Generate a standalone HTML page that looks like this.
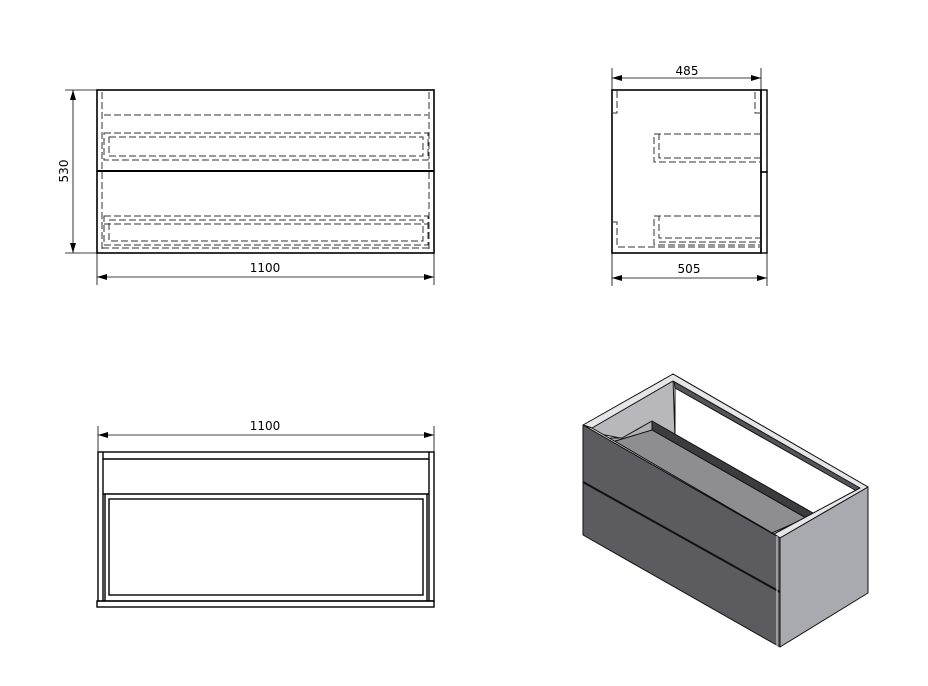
<!DOCTYPE html>
<html><head><meta charset="utf-8"><style>
body{margin:0;background:#fff}
svg{display:block}
text{font-family:"DejaVu Sans","Liberation Sans",sans-serif;font-size:12px;fill:#000}
</style></head><body>
<svg width="928" height="686" viewBox="0 0 928 686" xmlns="http://www.w3.org/2000/svg">
<defs>
<marker id="ar" viewBox="0 0 10 6" refX="10" refY="3" markerWidth="10" markerHeight="6" orient="auto-start-reverse" markerUnits="userSpaceOnUse"><path d="M0,0 L10,3 L0,6z" fill="#000"/></marker>
</defs>
<g fill="none" stroke="#000">
<!-- FRONT VIEW -->
<rect x="97" y="90" width="337" height="163" stroke-width="1.6"/>
<line x1="97" y1="171" x2="434" y2="171" stroke-width="2"/>
<g stroke-dasharray="7,3" stroke-width="1" stroke="#333">
<line x1="102" y1="92" x2="102" y2="250"/><line x1="429" y1="92" x2="429" y2="250"/>
<line x1="104" y1="115" x2="428" y2="115"/>
<rect x="104" y="133" width="324" height="27"/><rect x="109" y="137" width="314" height="19"/>
<rect x="104" y="216" width="324" height="29"/><rect x="109" y="220" width="314" height="21"/>
<line x1="104" y1="224" x2="428" y2="224"/>
<line x1="102" y1="248" x2="429" y2="248"/>
</g>
<g stroke-width="0.8">
<line x1="65" y1="90" x2="97" y2="90"/><line x1="65" y1="253" x2="97" y2="253"/>
<line x1="73" y1="90" x2="73" y2="253" marker-start="url(#ar)" marker-end="url(#ar)"/>
<line x1="97" y1="253" x2="97" y2="285"/><line x1="434" y1="253" x2="434" y2="285"/>
<line x1="97" y1="277" x2="434" y2="277" marker-start="url(#ar)" marker-end="url(#ar)"/>
</g>
<!-- SIDE VIEW -->
<rect x="612" y="90" width="149" height="163" stroke-width="1.6"/>
<rect x="761" y="90" width="6" height="82" stroke-width="1.4"/>
<rect x="761" y="172" width="6" height="81" stroke-width="1.4"/>
<g stroke-dasharray="7,3" stroke-width="1" stroke="#333">
<path d="M617 91 V113 H612"/><path d="M761 113 H755 V91"/>
<path d="M761 134 H654 V162 H761"/><path d="M761 158 H659 V134"/>
<path d="M761 216 H654 V245 H761"/><path d="M761 216 H659 V238 H761"/><line x1="659" y1="242" x2="761" y2="242"/>
<path d="M613 222 H617 V247 H761"/>
</g>
<g stroke-width="0.8">
<line x1="612" y1="68" x2="612" y2="90"/><line x1="761" y1="68" x2="761" y2="90"/>
<line x1="612" y1="78" x2="761" y2="78" marker-start="url(#ar)" marker-end="url(#ar)"/>
<line x1="612" y1="253" x2="612" y2="286"/><line x1="767" y1="253" x2="767" y2="286"/>
<line x1="612" y1="278" x2="767" y2="278" marker-start="url(#ar)" marker-end="url(#ar)"/>
</g>
<!-- BOTTOM VIEW -->
<g stroke-width="1.4">
<rect x="98" y="452" width="336" height="149"/>
<line x1="103" y1="452" x2="103" y2="601"/><line x1="429" y1="452" x2="429" y2="601"/>
<line x1="103" y1="459" x2="429" y2="459"/>
<line x1="103" y1="494" x2="429" y2="494"/>
<rect x="109" y="499" width="314" height="96"/>
<line x1="105" y1="494" x2="105" y2="601"/><line x1="427" y1="494" x2="427" y2="601"/>
<rect x="97" y="601" width="337" height="6"/>
</g>
<g stroke-width="0.8">
<line x1="98" y1="426" x2="98" y2="452"/><line x1="434" y1="426" x2="434" y2="452"/>
<line x1="98" y1="435" x2="434" y2="435" marker-start="url(#ar)" marker-end="url(#ar)"/>
</g>
</g>
<text x="265" y="272" text-anchor="middle">1100</text>
<text x="0" y="0" text-anchor="middle" transform="translate(68,171) rotate(-90)">530</text>
<text x="687" y="75" text-anchor="middle">485</text>
<text x="689" y="273" text-anchor="middle">505</text>
<text x="265" y="430" text-anchor="middle">1100</text>
<!-- 3D VIEW -->
<g stroke="#111" stroke-width="1" stroke-linejoin="round">
<!-- left inner wall -->
<polygon points="590,428 673,378 675,437 630,440 600,434" fill="#b7b7bc"/>
<!-- back strip -->
<polygon points="673,374 868,487 862,494 675,388" fill="#545459"/>
<line x1="675" y1="388" x2="675" y2="437"/>
<!-- tray -->
<polygon points="606,438 622,438 652,421 652,432 622,447 612,442" fill="#b0b0b4"/>
<polygon points="652,421 813,513 806,518 652,430" fill="#3c3c3f"/>
<polygon points="612,442 652,430 806,518 772,533" fill="#8e8e91"/>
<!-- top rim -->
<polygon points="583,425 673,374 868,487 780,538 774,534 860,488 673,381 592,428" fill="#e6e6e8"/>
<polygon points="583,425 592,428 774,534 780,538" fill="#e6e6e8"/>
<!-- front panel -->
<polygon points="583,425 780,538 780,647 583,535" fill="#5b5b60"/>
<line x1="583" y1="482" x2="780" y2="592" stroke-width="2"/>
<line x1="777" y1="536" x2="777" y2="646" stroke="#ddd"/>
<!-- right side -->
<polygon points="780,538 868,487 868,593 780,647" fill="#a9a9b0"/>
</g>
</svg>
</body></html>
